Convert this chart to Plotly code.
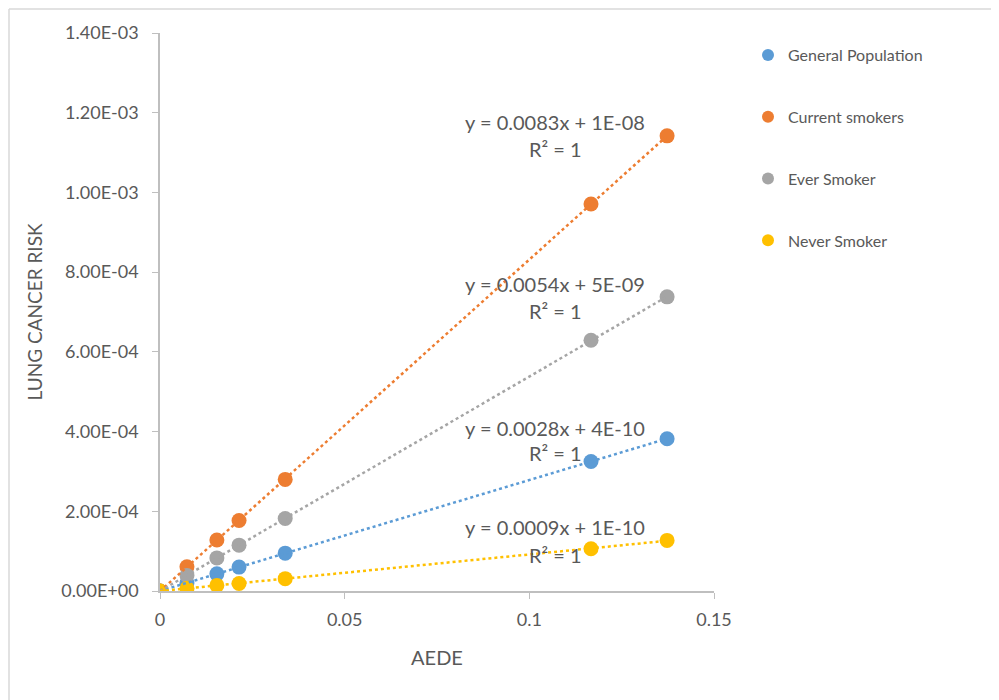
import numpy as np
import plotly.graph_objects as go

# AEDE values (x)
aede = [0.0, 0.0073, 0.0154, 0.0214, 0.0339, 0.1167, 0.1373]

# Lung cancer risk per group
general_population = [0.0, 2.0e-5, 4.3e-5, 6.0e-5, 9.5e-5, 3.25e-4, 3.82e-4]
current_smokers = [0.0, 6.1e-5, 1.28e-4, 1.77e-4, 2.80e-4, 9.71e-4, 1.142e-3]
ever_smoker = [0.0, 3.9e-5, 8.3e-5, 1.15e-4, 1.82e-4, 6.29e-4, 7.38e-4]
never_smoker = [0.0, 6.6e-6, 1.4e-5, 1.9e-5, 3.1e-5, 1.06e-4, 1.27e-4]

series_names = ["General Population", "Current smokers", "Ever Smoker", "Never Smoker"]
series_values = [general_population, current_smokers, ever_smoker, never_smoker]
series_colors = ["#5B9BD5", "#ED7D31", "#A5A5A5", "#FFC000"]

equations = ["y = 0.0028x + 4E-10", "y = 0.0083x + 1E-08",
             "y = 0.0054x + 5E-09", "y = 0.0009x + 1E-10"]
r2_labels = ["R² = 1", "R² = 1", "R² = 1", "R² = 1"]
eq_x = [0.107, 0.107, 0.107, 0.107]
eq_y = [4.09e-4, 1.177e-3, 7.70e-4, 1.61e-4]
r2_y = [3.46e-4, 1.109e-3, 7.03e-4, 9.0e-5]

FONT = "Lato, 'Open Sans', sans-serif"
TXT = "#595959"

fig = go.Figure()
xs = np.array(aede)
for name, vals, col in zip(series_names, series_values, series_colors):
    fig.add_trace(go.Scatter(
        x=aede, y=vals, mode="markers", name=name,
        legendgroup=name,
        marker=dict(color=col, size=15, line=dict(width=0)),
    ))
for name, vals, col in zip(series_names, series_values, series_colors):
    m, b = np.polyfit(xs, np.array(vals), 1)
    tx = [xs.min(), xs.max()]
    fig.add_trace(go.Scatter(
        x=tx, y=[m * t + b for t in tx], mode="lines", showlegend=False,
        line=dict(color=col, width=2.5, dash="dot"), hoverinfo="skip",
    ))

for i in range(4):
    fig.add_annotation(x=eq_x[i], y=eq_y[i], text=equations[i], showarrow=False,
                       font=dict(family=FONT, size=20, color=TXT), xanchor="center", yanchor="middle")
    fig.add_annotation(x=eq_x[i], y=r2_y[i], text=r2_labels[i], showarrow=False,
                       font=dict(family=FONT, size=20, color=TXT), xanchor="center", yanchor="middle")

# page offset of 8px: plot area in page pixels is x 160..714, y 33..591
W_PLOT = 554.0
H_PLOT = 558.0
L, T = 152, 25
FW, FH = 991, 692
bx0 = (1 - L) / W_PLOT
bx1 = (FW - L) / W_PLOT
by0 = (T + H_PLOT - FH) / H_PLOT
by1 = (T + H_PLOT - 1) / H_PLOT
fig.add_shape(type="line", xref="paper", yref="paper", x0=bx0, x1=bx1, y0=by1, y1=by1,
              line=dict(color="#D9D9D9", width=1.5), layer="below")
fig.add_shape(type="line", xref="paper", yref="paper", x0=bx0, x1=bx0, y0=by0, y1=by1,
              line=dict(color="#D9D9D9", width=1.5), layer="below")

fig.update_layout(
    width=FW, height=FH,
    margin=dict(l=L, r=FW - L - 554, t=T, b=FH - T - 558),
    paper_bgcolor="white", plot_bgcolor="white",
    font=dict(family=FONT, color=TXT),
    showlegend=True,
    legend=dict(x=(748 - 160) / W_PLOT, y=(591 - 38) / H_PLOT, xanchor="left", yanchor="top",
                font=dict(family=FONT, size=16, color=TXT), tracegroupgap=38,
                itemsizing="constant", bgcolor="rgba(0,0,0,0)"),
    xaxis=dict(range=[0, 0.15], tickvals=[0, 0.05, 0.1, 0.15], ticktext=["0", "0.05", "0.1", "0.15"],
               showgrid=False, zeroline=False, showline=True, linecolor="#BFBFBF", linewidth=1.5,
               ticks="outside", ticklen=6, tickcolor="#BFBFBF", ticklabelstandoff=6,
               tickfont=dict(family=FONT, size=18, color=TXT),
               title=dict(text="AEDE", font=dict(family=FONT, size=20, color=TXT), standoff=22)),
    yaxis=dict(range=[0, 1.4e-3], tickvals=[i * 2e-4 for i in range(8)],
               ticktext=["0.00E+00", "2.00E-04", "4.00E-04", "6.00E-04", "8.00E-04",
                         "1.00E-03", "1.20E-03", "1.40E-03"],
               showgrid=False, zeroline=False, showline=True, linecolor="#BFBFBF", linewidth=1.5,
               ticks="outside", ticklen=6, tickcolor="#BFBFBF", ticklabelstandoff=10,
               tickfont=dict(family=FONT, size=18, color=TXT),
               title=dict(text="LUNG CANCER RISK", font=dict(family=FONT, size=19, color=TXT), standoff=14)),
)
fig.write_html("out.html")
